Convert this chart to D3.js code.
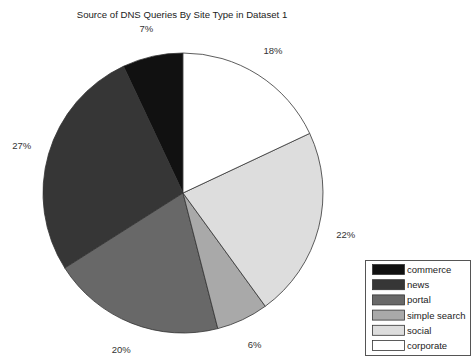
<!DOCTYPE html>
<html>
<head>
<meta charset="utf-8">
<script src="https://cdn.jsdelivr.net/npm/d3@7"></script>
<style>
  html, body { margin: 0; padding: 0; background: #fff; }
  svg { display: block; font-family: "Liberation Sans", Arial, sans-serif; }
</style>
</head>
<body>
<svg id="chart" width="472" height="358"></svg>
<script>
// Site types, in legend order (drawn counter-clockwise from 12 o'clock)
const categories = ["commerce", "news", "portal", "simple search", "social", "corporate"];
const shares = [7, 27, 20, 6, 22, 18];
const fills = ["#111111", "#363636", "#686868", "#a9a9a9", "#dddddd", "#ffffff"];
const title = "Source of DNS Queries By Site Type in Dataset 1";

const svg = d3.select("#chart");
const cx = 183, cy = 193, r = 140, labelR = 168;

svg.append("text")
  .attr("x", 182).attr("y", 18)
  .attr("text-anchor", "middle")
  .attr("font-size", 9.6)
  .attr("fill", "#222")
  .text(title);

const data = categories.map((c, i) => ({ name: c, value: shares[i], fill: fills[i] }));

// Counter-clockwise from the top: negate the angles
const pie = d3.pie().sort(null).value(d => d.value)
  .startAngle(0).endAngle(-2 * Math.PI);
const arcs = pie(data);
const arc = d3.arc().innerRadius(0).outerRadius(r);

const g = svg.append("g").attr("transform", `translate(${cx},${cy})`);
g.selectAll("path.slice").data(arcs).join("path")
  .attr("class", "slice")
  .attr("d", arc)
  .attr("fill", d => d.data.fill)
  .attr("stroke", "#333")
  .attr("stroke-width", 0.8);

const labelArc = d3.arc().innerRadius(labelR).outerRadius(labelR);
g.selectAll("text.pct").data(arcs).join("text")
  .attr("class", "pct")
  .attr("transform", d => `translate(${labelArc.centroid(d)})`)
  .attr("text-anchor", "middle")
  .attr("dy", "0.35em")
  .attr("font-size", 9.5)
  .attr("fill", "#333")
  .text(d => d.data.value + "%");

// Legend
const lx = 365, ly = 260, pitch = 15.2;
svg.append("rect")
  .attr("x", lx + 0.5).attr("y", ly + 0.5)
  .attr("width", 105).attr("height", 95)
  .attr("fill", "#fff").attr("stroke", "#555").attr("stroke-width", 1);

const items = svg.selectAll("g.item").data(data).join("g")
  .attr("class", "item")
  .attr("transform", (d, i) => `translate(${lx + 7},${ly + 4 + i * pitch})`);
items.append("rect")
  .attr("x", 0.5).attr("y", 0.5)
  .attr("width", 32).attr("height", 10)
  .attr("fill", d => d.fill)
  .attr("stroke", "#333").attr("stroke-width", 0.8);
items.append("text")
  .attr("x", 35).attr("y", 9)
  .attr("font-size", 9.5)
  .attr("fill", "#222")
  .text(d => d.name);
</script>
</body>
</html>
